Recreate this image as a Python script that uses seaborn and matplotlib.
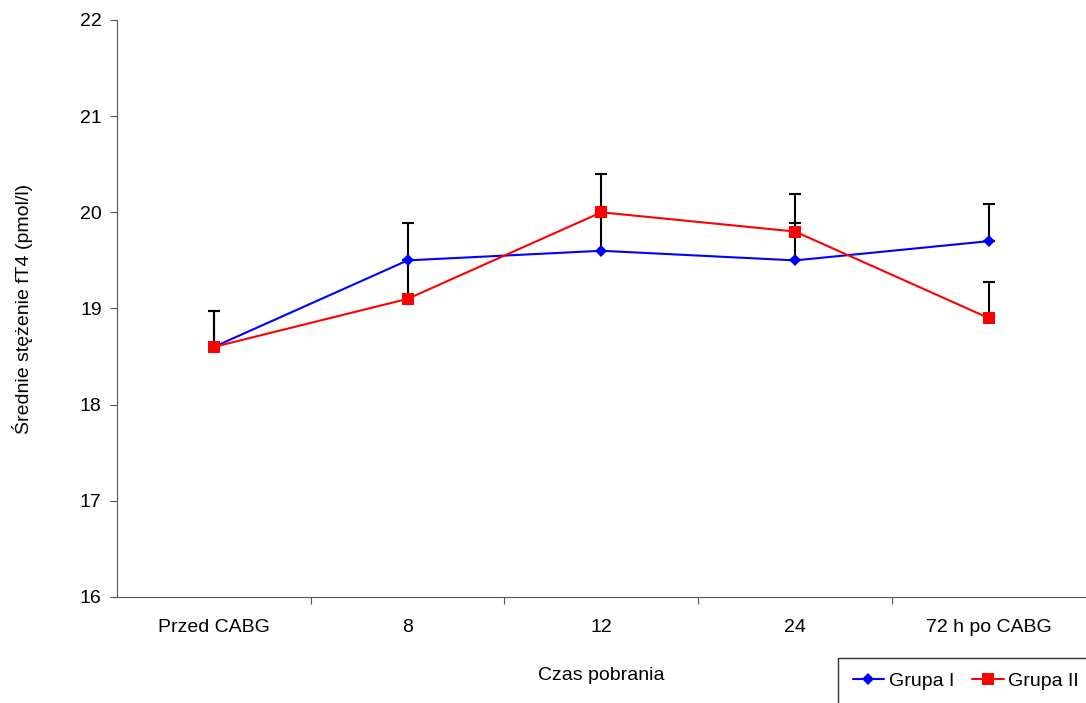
import matplotlib
matplotlib.use("Agg")
import matplotlib.pyplot as plt
import seaborn as sns
import pandas as pd
import numpy as np
from matplotlib.lines import Line2D

categories = ["Przed CABG", "8", "12", "24", "72 h po CABG"]
grupa1 = [18.6, 19.5, 19.6, 19.5, 19.7]
grupa2 = [18.6, 19.1, 20.0, 19.8, 18.9]
grupa1_err = [0.37, 0.39, 0.40, 0.39, 0.39]
grupa2_err = [0.37, 0.40, 0.40, 0.39, 0.38]
series_names = ["Grupa I", "Grupa II"]
colors = ["#0000FF", "#FF0000"]

sns.set_theme(style="white")
plt.rcParams['font.family'] = ['Liberation Sans', 'DejaVu Sans']
plt.rcParams['text.color'] = 'black'
plt.rcParams['axes.labelcolor'] = 'black'
plt.rcParams['xtick.labelcolor'] = 'black'
plt.rcParams['ytick.labelcolor'] = 'black'

df = pd.DataFrame({
    "cat": list(range(len(categories))) * 2,
    "val": grupa1 + grupa2,
    "grp": [series_names[0]] * len(categories) + [series_names[1]] * len(categories),
})

fig = plt.figure(figsize=(10.86, 7.03), dpi=100)
ax = fig.add_axes([0.1077, 0.1508, 0.892, 0.8208])

x = np.arange(len(categories))
for vals, errs in [(grupa1, grupa1_err), (grupa2, grupa2_err)]:
    ax.errorbar(x, vals, yerr=[np.zeros(len(errs)), errs], fmt="none",
                ecolor="black", elinewidth=1.5, capsize=4, capthick=1.5, zorder=2)

sns.lineplot(data=df, x="cat", y="val", hue="grp", style="grp",
             markers={"Grupa I": "D", "Grupa II": "s"}, dashes=False,
             palette=dict(zip(series_names, colors)), linewidth=1.5,
             markersize=7, markeredgewidth=0, ax=ax, legend=False, zorder=3)
for ln in ax.lines:
    if ln.get_marker() == "s":
        ln.set_markersize(8)
    elif ln.get_marker() == "D":
        ln.set_markersize(6)

fs = 14
ax.set_xlim(-0.5, len(categories) - 0.5)
ax.set_ylim(16, 22)
ax.set_yticks(range(16, 23))
ax.set_xticks(x)
ax.set_xticklabels(categories)
ax.set_xticks(np.arange(0.5, len(categories) - 1, 1.0), minor=True)
ax.tick_params(axis="x", which="major", bottom=False, length=0, pad=16,
               labelsize=fs, labelcolor="black")
ax.tick_params(axis="x", which="minor", bottom=True, length=5, width=0.8,
               color="#555555", direction="out")
ax.tick_params(axis="y", left=True, length=5, width=0.8, color="#555555",
               direction="out", labelsize=fs, pad=6, labelcolor="black")

for s in ["top", "right"]:
    ax.spines[s].set_visible(False)
for s in ["left", "bottom"]:
    ax.spines[s].set_color("#555555")
    ax.spines[s].set_linewidth(0.8)

ax.set_xlabel("Czas pobrania", fontsize=fs, labelpad=22, color="black")
ax.set_ylabel("Średnie stężenie fT4 (pmol/l)", fontsize=fs, labelpad=34, color="black")

handles = [
    Line2D([], [], color=colors[0], marker="D", markersize=6, markeredgewidth=0, linewidth=1.5),
    Line2D([], [], color=colors[1], marker="s", markersize=8, markeredgewidth=0, linewidth=1.5),
]
leg = fig.legend(handles, series_names, loc="upper left",
                 bbox_to_anchor=(838 / 1086, 1 - 658 / 703), ncol=2,
                 frameon=True, fancybox=False, fontsize=fs, handlelength=1.6,
                 handletextpad=0.25, columnspacing=0.95, borderpad=0.75,
                 borderaxespad=0, labelcolor="black")
leg.get_frame().set_edgecolor("black")
leg.get_frame().set_linewidth(1.0)

fig.savefig("out.png", dpi=100)
